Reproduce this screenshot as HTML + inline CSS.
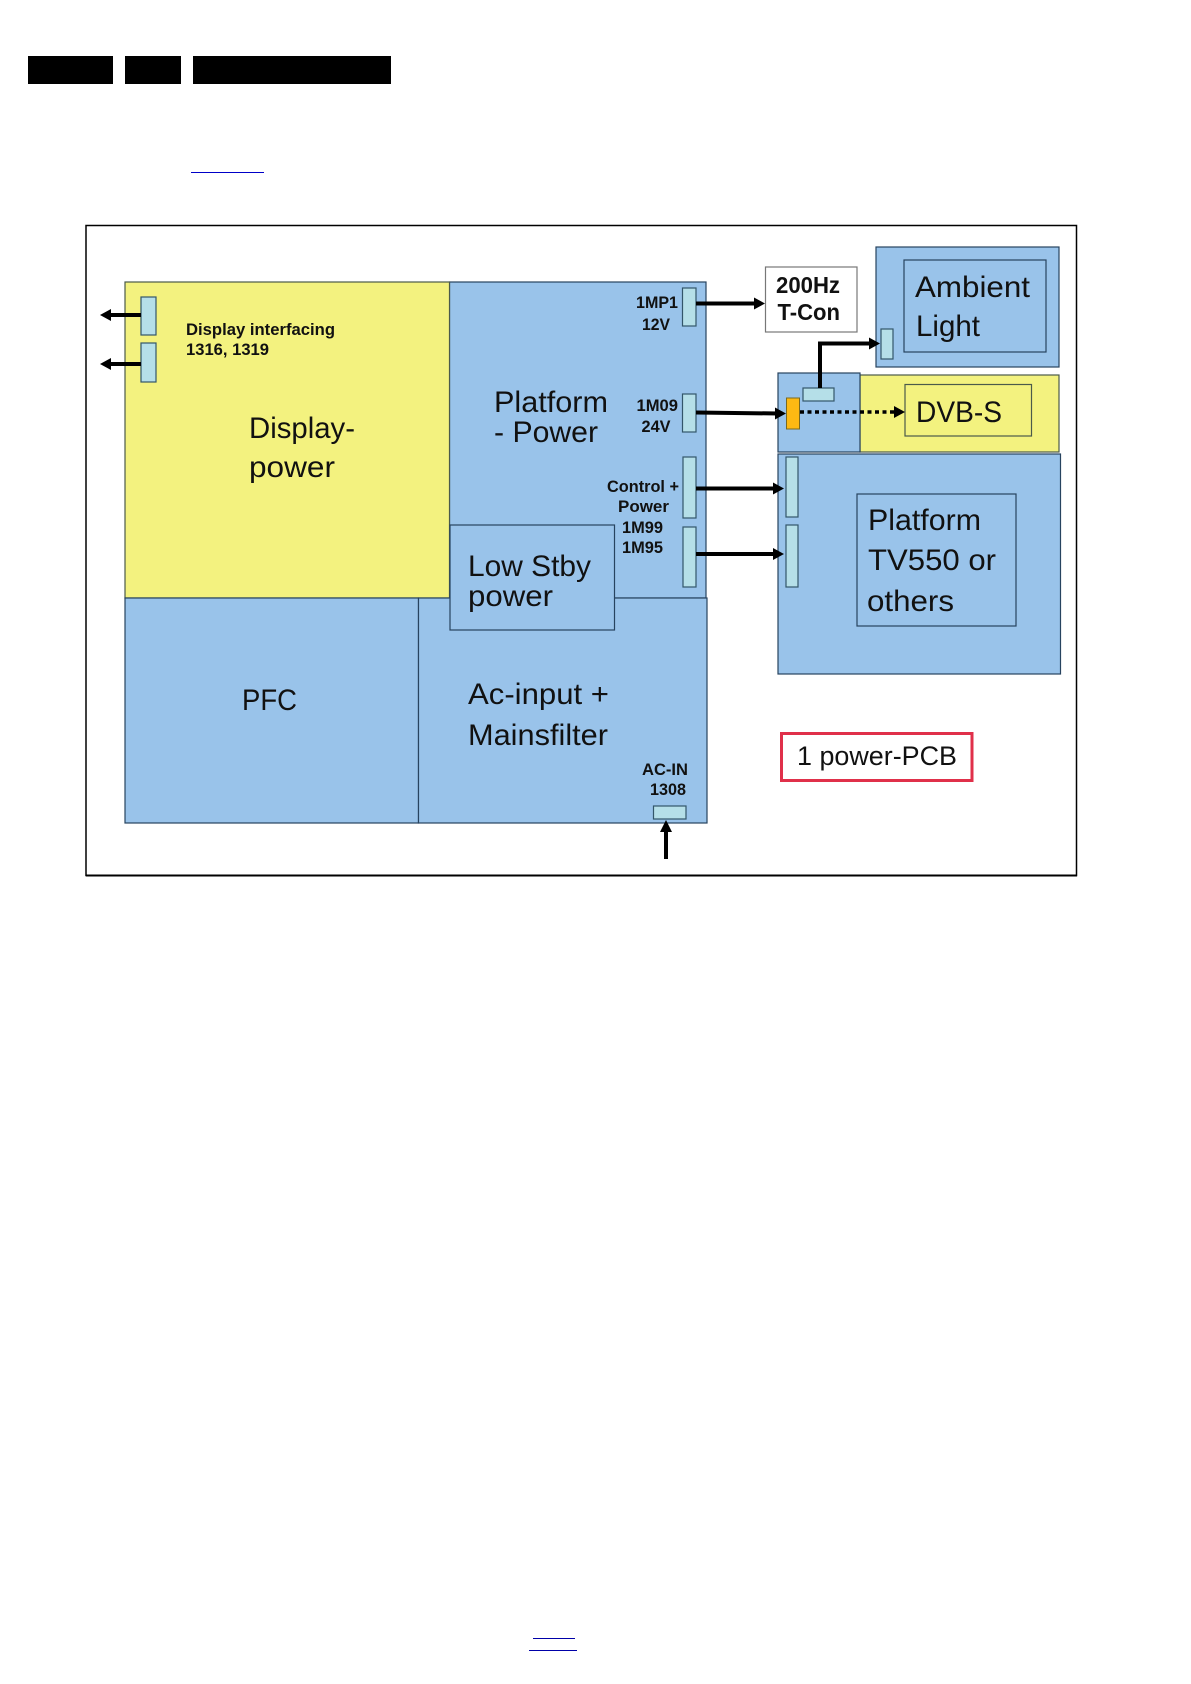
<!DOCTYPE html>
<html><head><meta charset="utf-8"><style>
html,body{margin:0;padding:0;background:#fff}
svg{display:block}
text{font-family:"Liberation Sans",sans-serif;fill:#111}
.b{font-weight:bold;font-size:16.5px}
.g{font-size:30px}
.box{fill:#99c3ea;stroke:#27435f;stroke-width:1.2}
.y{fill:#f3f27f;stroke:#4a5a4a;stroke-width:1.2}
.c{fill:#b5dfe8;stroke:#33566a;stroke-width:1.2}
.a{stroke:#000;stroke-width:4;fill:none}
</style></head><body>
<svg width="1191" height="1684" viewBox="0 0 1191 1684" xmlns="http://www.w3.org/2000/svg">
<rect width="1191" height="1684" fill="#fff"/>
<rect x="28" y="56" width="85" height="28" fill="#000"/>
<rect x="125" y="56" width="56" height="28" fill="#000"/>
<rect x="193" y="56" width="198" height="28" fill="#000"/>
<rect x="191" y="172" width="73" height="1" fill="#0000c8"/>
<rect x="533" y="1638" width="42" height="1" fill="#0000a8"/>
<rect x="529" y="1650" width="48" height="1" fill="#0000a8"/>
<rect x="86" y="225.500" width="990.500" height="650" fill="#fff" stroke="#000" stroke-width="1.500"/>
<path d="M86 875.500H1077" stroke="#000" stroke-width="2"/>

<rect class="box" x="449.500" y="282" width="256.500" height="316"/>
<rect class="y" x="125" y="282" width="324.500" height="316"/>
<rect class="box" x="125" y="598" width="293.500" height="225"/>
<rect class="box" x="418.500" y="598" width="288.500" height="225"/>
<rect class="box" x="450" y="525" width="164.500" height="105"/>

<rect class="c" x="141" y="297" width="15" height="38"/>
<rect class="c" x="141" y="343" width="15" height="39"/>
<path class="a" d="M141 315H108"/><path d="M100 315l11-6v12z"/>
<path class="a" d="M141 364H108"/><path d="M100 364l11-6v12z"/>
<text class="b" x="186" y="335" textLength="149" lengthAdjust="spacingAndGlyphs">Display interfacing</text>
<text class="b" x="186" y="355" textLength="83" lengthAdjust="spacingAndGlyphs">1316, 1319</text>
<text class="g" x="249" y="438" textLength="106" lengthAdjust="spacingAndGlyphs">Display-</text>
<text class="g" x="249" y="477" textLength="86" lengthAdjust="spacingAndGlyphs">power</text>
<text class="g" x="494" y="412" textLength="114" lengthAdjust="spacingAndGlyphs">Platform</text>
<text class="g" x="494" y="442" textLength="104" lengthAdjust="spacingAndGlyphs">- Power</text>
<text class="g" x="468" y="576" textLength="123" lengthAdjust="spacingAndGlyphs">Low Stby</text>
<text class="g" x="468" y="606" textLength="85" lengthAdjust="spacingAndGlyphs">power</text>
<text class="g" x="242" y="710" textLength="55" lengthAdjust="spacingAndGlyphs">PFC</text>
<text class="g" x="468" y="704" textLength="141" lengthAdjust="spacingAndGlyphs">Ac-input +</text>
<text class="g" x="468" y="745" textLength="140" lengthAdjust="spacingAndGlyphs">Mainsfilter</text>

<rect class="c" x="682.500" y="288" width="13.500" height="38"/>
<rect class="c" x="682.500" y="394" width="13.500" height="38"/>
<rect class="c" x="683" y="457" width="13" height="61"/>
<rect class="c" x="683" y="527" width="13" height="60"/>
<text class="b" x="636" y="308" textLength="42" lengthAdjust="spacingAndGlyphs">1MP1</text>
<text class="b" x="642" y="330" textLength="28" lengthAdjust="spacingAndGlyphs">12V</text>
<text class="b" x="636.500" y="411" textLength="41.500" lengthAdjust="spacingAndGlyphs">1M09</text>
<text class="b" x="641.500" y="432" textLength="29" lengthAdjust="spacingAndGlyphs">24V</text>
<text class="b" x="607" y="492" textLength="72" lengthAdjust="spacingAndGlyphs">Control +</text>
<text class="b" x="618" y="512" textLength="51" lengthAdjust="spacingAndGlyphs">Power</text>
<text class="b" x="622" y="533" textLength="41" lengthAdjust="spacingAndGlyphs">1M99</text>
<text class="b" x="622" y="553" textLength="41" lengthAdjust="spacingAndGlyphs">1M95</text>
<text class="b" x="642" y="775" textLength="46" lengthAdjust="spacingAndGlyphs">AC-IN</text>
<text class="b" x="650" y="795" textLength="36" lengthAdjust="spacingAndGlyphs">1308</text>
<rect class="c" x="653.500" y="806" width="32.500" height="13"/>
<path class="a" d="M666 859V828"/><path d="M666 820l-6 12h12z"/>

<rect x="765.500" y="267" width="91.500" height="65" fill="#fff" stroke="#777" stroke-width="1.200"/>
<text x="776" y="293" font-size="23" font-weight="bold" textLength="64" lengthAdjust="spacingAndGlyphs">200Hz</text>
<text x="777.500" y="320" font-size="23" font-weight="bold" textLength="62.500" lengthAdjust="spacingAndGlyphs">T-Con</text>
<path class="a" d="M696 303.500H757"/><path d="M765 303.500l-11-6v12z"/>

<rect class="box" x="876" y="247" width="183" height="120"/>
<rect class="box" x="904" y="260" width="142" height="92"/>
<text class="g" x="915" y="297" textLength="115" lengthAdjust="spacingAndGlyphs">Ambient</text>
<text class="g" x="916" y="336" textLength="64" lengthAdjust="spacingAndGlyphs">Light</text>
<rect class="c" x="881" y="329" width="12" height="30"/>

<rect class="y" x="860" y="375" width="199" height="77"/>
<rect class="box" x="778" y="373" width="82" height="79"/>
<rect class="y" x="905" y="384.500" width="126.500" height="51.500"/>
<text class="g" x="916" y="422" textLength="86" lengthAdjust="spacingAndGlyphs">DVB-S</text>
<rect class="c" x="803" y="388" width="31" height="13"/>
<path class="a" d="M820 388V343.500H872"/><path d="M880 343.500l-11-6v12z"/>
<rect x="786.500" y="398" width="13" height="31" fill="#fdb913" stroke="#7a6a20" stroke-width="1"/>
<path class="a" d="M696 412.500L778 413.500"/><path d="M786 413.500l-11-6v12z"/>
<path d="M800 412H897" stroke="#000" stroke-width="3.500" stroke-dasharray="4 3.500" fill="none"/><path d="M905 412l-11-6v12z"/>

<rect class="box" x="778" y="454" width="282.500" height="220"/>
<rect class="c" x="786" y="457" width="12" height="60"/>
<rect class="c" x="786" y="525" width="12" height="62"/>
<rect class="box" x="857" y="494" width="159" height="132"/>
<text class="g" x="868" y="530" textLength="113" lengthAdjust="spacingAndGlyphs">Platform</text>
<text class="g" x="868" y="570" textLength="128" lengthAdjust="spacingAndGlyphs">TV550 or</text>
<text class="g" x="867" y="611" textLength="87" lengthAdjust="spacingAndGlyphs">others</text>
<path class="a" d="M696 488.500H776"/><path d="M784 488.500l-11-6v12z"/>
<path class="a" d="M696 554H776"/><path d="M784 554l-11-6v12z"/>

<rect x="781.500" y="733.500" width="190.500" height="47" fill="#fff" stroke="#e0304a" stroke-width="3"/>
<text x="797" y="765" font-size="26.500" textLength="160" lengthAdjust="spacingAndGlyphs">1 power-PCB</text>
</svg>
</body></html>
